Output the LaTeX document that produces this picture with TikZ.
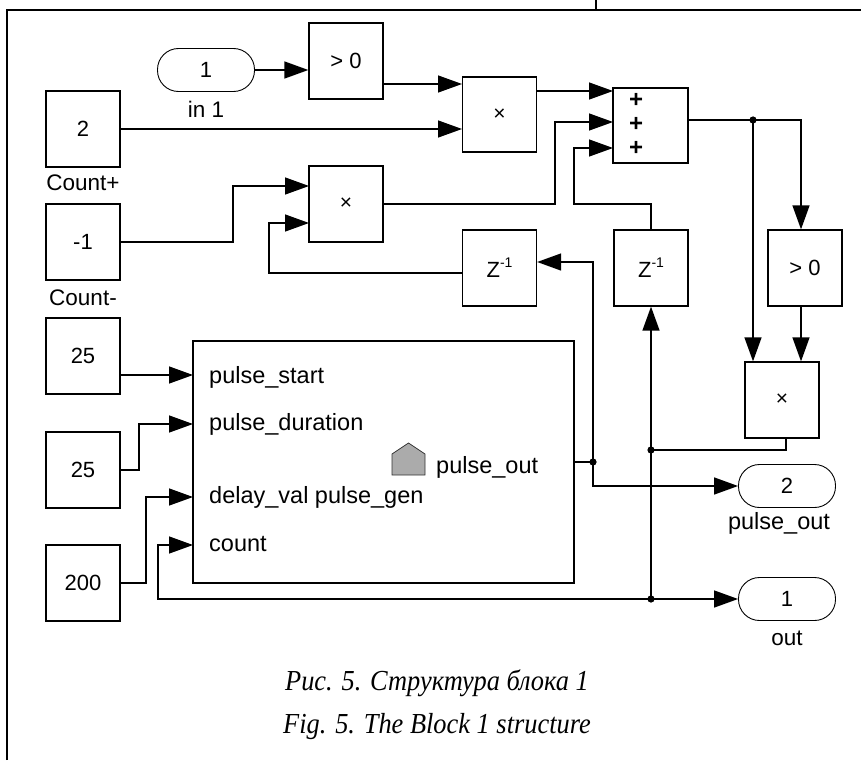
\documentclass[tikz,border=0pt]{standalone}
\usepackage{fontspec}
\setmainfont{Liberation Sans}
\newfontfamily\capfont{Liberation Serif}
\usetikzlibrary{arrows.meta,calc}
\begin{document}
\begin{tikzpicture}[x=1pt,y=-1pt,
  blk/.style={draw, line width=1.3pt, minimum width=74pt, minimum height=76pt, inner sep=0pt, font=\fontsize{22}{24}\selectfont},
  term/.style={draw, line width=0.9pt, rounded corners=21pt, minimum width=97pt, minimum height=43pt, inner sep=0pt, font=\fontsize{22}{24}\selectfont},
  lbl/.style={inner sep=0pt, font=\fontsize{22.5}{24}\selectfont},
  pgt/.style={inner sep=0pt, font=\fontsize{23.5}{26}\selectfont},
  mul/.style={blk, font=\fontsize{21}{22}\selectfont},
  plussign/.style={inner sep=0pt, font=\fontsize{24}{24}\selectfont\bfseries},
  captxt/.style={inner sep=0pt, font=\capfont\itshape\fontsize{29}{32}\selectfont},
  wire/.style={line width=1.4pt},
  arr/.style={wire, -{Triangle[length=24pt,width=17pt]}},
  frm/.style={line width=1.6pt}]
\useasboundingbox (0,0) rectangle (861,760);
% frame
\draw[frm] (7,760) -- (7,10) -- (861,10);
\draw[frm] (596,0) -- (596,10);
% blocks
\node[term] (in1) at (206,70) {1};
\node[lbl] (in1l) at (206,109) {in 1};
\node[blk] (gt1) at (346,61) {> 0};
\node[blk] (cp) at (83,129) {2};
\node[lbl] (cpl) at (83,183) {Count+};
\node[mul, minimum height=75pt] (m1) at (499.5,114.5) {×};
\node[blk, minimum width=75pt, minimum height=75pt] (sum) at (650.5,125.5) {};
\node[plussign] (sp1) at (636,100) {+};
\node[plussign] (sp2) at (636,124) {+};
\node[plussign] (sp3) at (636,148) {+};
\node[blk] (cm) at (83,242) {-1};
\node[lbl] (cml) at (83,298) {Count-};
\node[mul] (m2) at (346,204) {×};
\node[blk] (z1) at (499.5,268) {Z\raisebox{0.45em}{\fontsize{14}{14}\selectfont -1}};
\node[blk] (z2) at (651,268) {Z\raisebox{0.45em}{\fontsize{14}{14}\selectfont -1}};
\node[blk] (gt2) at (805,268) {> 0};
\node[mul] (m3) at (782,400) {×};
\node[blk] (k1) at (83,356) {25};
\node[blk] (k2) at (83,470) {25};
\node[blk] (k3) at (83,583) {200};
\node[draw, line width=2pt, minimum width=381pt, minimum height=242pt, inner sep=0pt] (pg) at (383.5,462) {};
\node[pgt, anchor=base west] (pgs) at (209,383) {pulse\_start};
\node[pgt, anchor=base west] (pgd) at (209,430) {pulse\_duration};
\node[pgt, anchor=base west] (pgv) at (209,503) {delay\_val pulse\_gen};
\node[pgt, anchor=base west] (pgn) at (209,551) {count};
\node[pgt, anchor=base west] (pgo) at (436,473) {pulse\_out};
\draw[line width=0.8pt, fill=gray!90!black!60, draw=black!80] (392,475) -- (392,454) -- (408.5,443) -- (425,454) -- (425,475) -- cycle;
\node[term] (o2) at (787,486) {2};
\node[pgt, anchor=base] (o2l) at (779,529) {pulse\_out};
\node[term] (o1) at (787,599) {1};
\node[lbl] (o1l) at (787,638) {out};
% caption
\node[captxt, anchor=base] (cap1) at (437,690) {\scalebox{0.91}[1]{Рис. 5. Структура блока 1}};
\node[captxt, anchor=base] (cap2) at (437,733) {\scalebox{0.91}[1]{Fig. 5. The Block 1 structure}};
% ports
\coordinate (m1a) at (462,84);
\coordinate (m1b) at (462,129);
\coordinate (s1) at (613,91);
\coordinate (s2) at (613,122);
\coordinate (s3) at (613,148);
\coordinate (m2a) at (309,186);
\coordinate (m2b) at (309,223);
\coordinate (j1) at (753,120);
\coordinate (j2) at (651,450);
\coordinate (j3) at (651,599);
\coordinate (j4) at (593,462);
\coordinate (ps) at (193,375);
\coordinate (pd) at (193,424);
\coordinate (pv) at (193,497);
\coordinate (pc) at (193,545);
% wires
\draw[arr] (in1.east) -- (in1.east -| gt1.west);
\draw[arr] (gt1.east |- m1a) -- (m1a);
\draw[arr] (cp.east |- m1b) -- (m1b);
\draw[arr] (m1.east |- s1) -- (s1);
\draw[arr] (cm.east) -| (233,186) -- (m2a);
\draw[arr] (m2.east) -| (555,122) -- (s2);
\draw[arr] (z2.north) |- (574,204) |- (s3);
\draw[wire] (sum.east |- j1) -- (j1);
\draw[arr] (j1) -| ([xshift=-4pt]gt2.north);
\draw[arr] (j1) -- (j1 |- m3.north);
\draw[arr] ([xshift=-4pt]gt2.south) -- ([xshift=-4pt]gt2.south |- m3.north);
\draw[wire] ([xshift=4pt]m3.south) |- (j2);
\draw[arr] (j2) -- (z2.south);
\draw[wire] (j2) -- (j3);
\draw[arr] (j3) -- (j3 -| o1.west);
\draw[arr] (j3) -- (158,599) |- (pc);
\draw[wire] (pg.east) -- (j4);
\draw[arr] (j4) |- ([yshift=6pt]z1.east);
\draw[arr] (j4) |- (o2.west);
\draw[arr] ([yshift=-5pt]z1.west) -| (269,223) -- (m2b);
\draw[arr] (k1.east |- ps) -- (ps);
\draw[arr] (k2.east) -| (139,424) -- (pd);
\draw[arr] (k3.east) -| (146,497) -- (pv);
% junction dots
\foreach \j in {j1,j2,j3,j4} \fill (\j) circle (3.6pt);
\end{tikzpicture}
\end{document}
